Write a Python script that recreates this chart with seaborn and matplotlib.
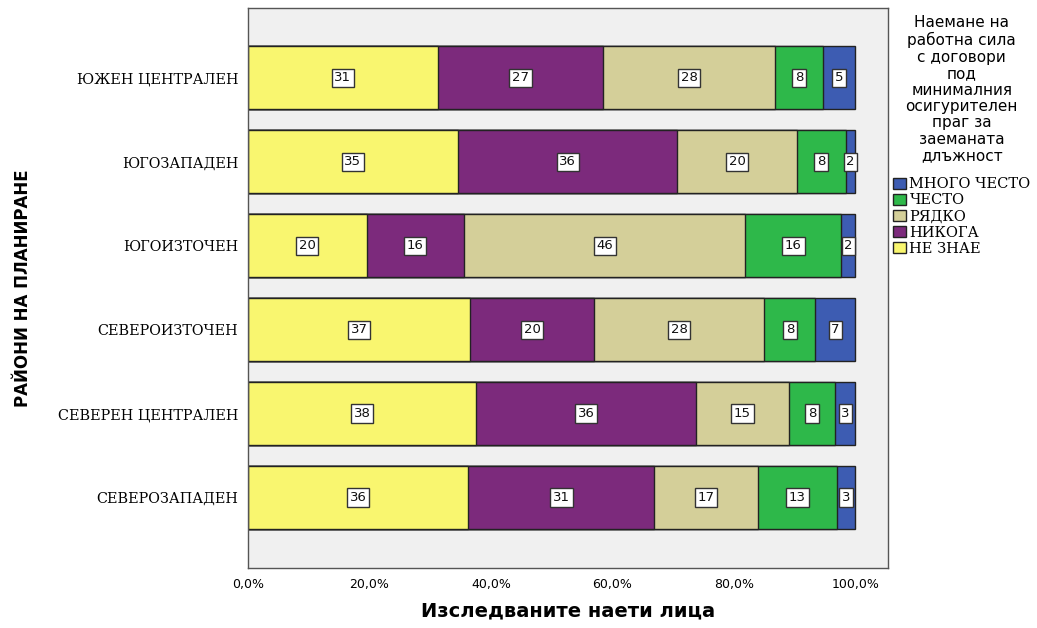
import numpy as np
import pandas as pd
import seaborn as sns
import matplotlib.pyplot as plt
from matplotlib.patches import Patch

# regions (top to bottom)
regions = ["ЮЖЕН ЦЕНТРАЛЕН", "ЮГОЗАПАДЕН", "ЮГОИЗТОЧЕН",
           "СЕВЕРОИЗТОЧЕН", "СЕВЕРЕН ЦЕНТРАЛЕН", "СЕВЕРОЗАПАДЕН"]

# answer shares in % (left to right in each bar)
ne_znae = [31.3, 34.6, 19.6, 36.6, 37.6, 36.3]
nikoga = [27.1, 36.1, 15.9, 20.4, 36.2, 30.6]
riadko = [28.4, 19.6, 46.4, 28.0, 15.2, 17.1]
chesto = [7.9, 8.1, 15.8, 8.4, 7.7, 12.9]
mnogo_chesto = [5.3, 1.6, 2.3, 6.6, 3.3, 3.1]

answers = ["НЕ ЗНАЕ", "НИКОГА", "РЯДКО", "ЧЕСТО", "МНОГО ЧЕСТО"]
colors = ["#F9F66F", "#7C2A7C", "#D4CF99", "#2EB84A", "#3D5CB2"]

legend_title = "Наемане на\nработна сила\nс договори\nпод\nминималния\nосигурителен\nпраг за\nзаеманата\nдлъжност"

df = pd.DataFrame({"region": regions, "НЕ ЗНАЕ": ne_znae, "НИКОГА": nikoga,
                   "РЯДКО": riadko, "ЧЕСТО": chesto, "МНОГО ЧЕСТО": mnogo_chesto})
cum = df[answers].cumsum(axis=1)

sns.set_style("white")
plt.rcParams.update({"text.color": "black", "axes.labelcolor": "black",
                     "xtick.color": "black", "ytick.color": "black"})

fig, ax = plt.subplots(figsize=(10.37, 6.28), dpi=100)
fig.subplots_adjust(left=0.239, right=0.856, bottom=0.0955, top=0.987)
ax.set_facecolor("#F0F0F0")

# draw widest cumulative first so the shorter ones sit on top
for ans, col in reversed(list(zip(answers, colors))):
    sns.barplot(x=cum[ans], y=df["region"], color=col, orient="h",
                edgecolor="#222222", linewidth=1, width=0.75, saturation=1,
                errorbar=None, ax=ax, order=regions)

# value labels in white boxes
for i in range(len(regions)):
    left = 0
    for ans in answers:
        w = df.loc[i, ans]
        ax.text(left + w / 2, i, f"{w:.0f}", ha="center", va="center",
                fontsize=9.5, family="DejaVu Sans", color="#111111",
                bbox=dict(boxstyle="square,pad=0.2", fc="white", ec="#333333", lw=1))
        left += w

ax.set_xlim(0, 105.3)
ax.set_ylim(5.84, -0.83)
ticks = [0, 20, 40, 60, 80, 100]
ax.set_xticks(ticks)
ax.set_xticklabels([f"{t:.1f}%".replace(".", ",") for t in ticks],
                   fontsize=9, family="DejaVu Sans")
ax.set_yticks(range(len(regions)))
ax.set_yticklabels(regions, fontsize=10.4, family="DejaVu Serif")
ax.tick_params(axis="both", direction="out", length=5, width=1, color="#333333", pad=2)

for s in ax.spines.values():
    s.set_color("#555555")
    s.set_linewidth(1)

ax.set_xlabel("Изследваните наети лица", fontsize=14, fontweight="bold",
              family="DejaVu Sans", labelpad=8)
ax.set_ylabel("РАЙОНИ НА ПЛАНИРАНЕ", fontsize=12, fontweight="bold",
              family="DejaVu Sans")
ax.yaxis.set_label_coords(-0.337, 0.5)

handles = [Patch(facecolor=c, edgecolor="#222222", label=a)
           for a, c in reversed(list(zip(answers, colors)))]
leg = fig.legend(handles=handles, title=legend_title, loc="upper left",
                 bbox_to_anchor=(0.858, 0.98), frameon=False,
                 prop={"family": "DejaVu Serif", "size": 10.5},
                 title_fontproperties={"family": "DejaVu Sans", "size": 11},
                 handlelength=0.9, handleheight=0.8, handletextpad=0.25,
                 labelspacing=0.15, borderaxespad=0, borderpad=0.2)
leg.get_title().set_multialignment("center")
leg.get_title().set_linespacing(1.12)
# a bit more room between the title and the entries
leg._legend_box.sep = 10

fig.savefig("out.png", dpi=100)
